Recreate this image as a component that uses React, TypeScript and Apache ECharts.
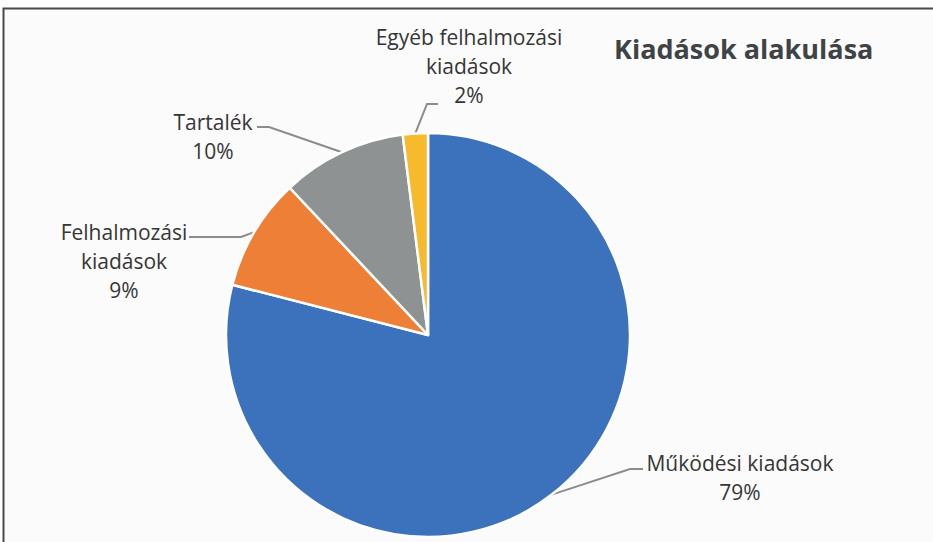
import React, { useEffect, useRef } from "react";
import * as echarts from "echarts";

const categories = ["Működési kiadások", "Felhalmozási kiadások", "Tartalék", "Egyéb felhalmozási kiadások"];
const labelTexts = ["Működési kiadások", "Felhalmozási\nkiadások", "Tartalék", "Egyéb felhalmozási\nkiadások"];
const values = [79, 9, 10, 2];
const colors = ["#3b72bb", "#ee7f37", "#8f9293", "#f6ba2c"];
const titleText = "Kiadások alakulása";

// label placement (layout only)
const labelPlacement = [
  { x: 740, y: 477, elbow: [630, 469], end: [643, 469] },
  { x: 124, y: 261, elbow: [241, 237], end: [189, 237] },
  { x: 213, y: 136, elbow: [269, 127], end: [257, 127] },
  { x: 469, y: 66, elbow: [427, 104], end: [438, 104] },
];

export default function App() {
  const ref = useRef<HTMLDivElement>(null);
  useEffect(() => {
    if (!ref.current) return;
    const chart = echarts.init(ref.current, null, { renderer: "svg" });
    chart.setOption({
      animation: false,
      backgroundColor: "#ffffff",
      title: {
        text: titleText,
        left: 609,
        top: 30,
        textStyle: {
          fontFamily: "'Open Sans', sans-serif",
          fontWeight: "bold",
          fontSize: 27,
          color: "#3f4346",
        },
      },
      graphic: [
        {
          type: "rect",
          z: -10,
          silent: true,
          shape: { x: 3.5, y: 8.5, width: 980, height: 600 },
          style: { fill: "#fbfbfb", stroke: "#4a4a4a", lineWidth: 2 },
        },
      ],
      series: [
        {
          type: "pie",
          center: [428, 335],
          radius: 202,
          startAngle: 90,
          clockwise: true,
          avoidLabelOverlap: false,
          itemStyle: { borderColor: "#ffffff", borderWidth: 2.5 },
          label: {
            show: true,
            position: "outside",
            fontFamily: "'Open Sans', sans-serif",
            fontSize: 21,
            lineHeight: 29,
            color: "#363636",
            formatter: (p: any) => `${labelTexts[p.dataIndex]}\n${Math.round(p.percent)}%`,
          },
          labelLine: {
            show: true,
            length: 20,
            length2: 10,
            lineStyle: { color: "#8c8c8c", width: 2 },
          },
          labelLayout: (params: any) => {
            const L = labelPlacement[params.dataIndex];
            const out: any = { x: L.x, y: L.y, align: "center", verticalAlign: "middle" };
            const pts = params.labelLinePoints;
            if (pts && pts[0]) {
              out.labelLinePoints = [pts[0], L.elbow, L.end];
            }
            return out;
          },
          data: categories.map((name, i) => ({
            name,
            value: values[i],
            itemStyle: { color: colors[i] },
          })),
        },
      ],
    });
    return () => chart.dispose();
  }, []);
  return (
    <div
      ref={ref}
      style={{ position: "fixed", left: 0, top: 0, width: 933, height: 542 }}
    />
  );
}
